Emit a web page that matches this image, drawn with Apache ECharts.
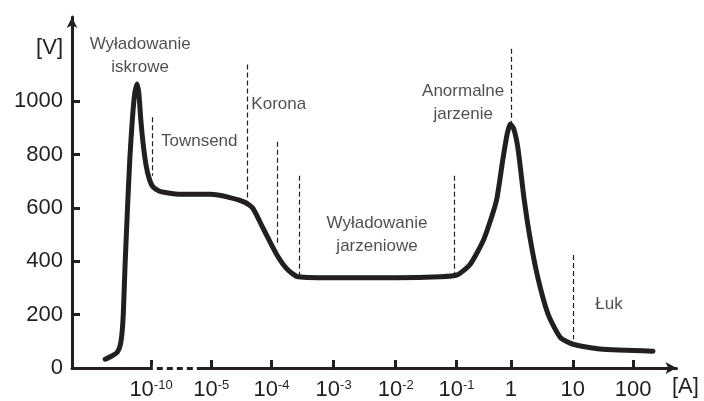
<!DOCTYPE html>
<html><head><meta charset="utf-8">
<script src="https://cdn.jsdelivr.net/npm/echarts@6/dist/echarts.min.js"></script>
<style>html,body{margin:0;padding:0;background:#fff}#c{width:704px;height:401px}</style>
</head><body><div id="c"></div>
<script>
// x axis: one unit per labelled tick (axis is broken / schematic)
const tickPos = [0, 1, 2, 3.03, 4.06, 5.07, 5.97, 7, 8];
const tickLabels = ['10^-10', '10^-5', '10^-4', '10^-3', '10^-2', '10^-1', '1', '10', '100'];
const yTicks = [0, 200, 400, 600, 800, 1000];
const yLabelVals = [0, 200, 400, 600, 800, 1000, 1200];
const yUnitAt = 1200;

const curveX = [-0.76,-0.65,-0.56,-0.51,-0.48,-0.46,-0.43,-0.39,-0.35,-0.31,-0.27,-0.23,-0.20,-0.17,-0.13,-0.08,-0.03,0.03,0.15,0.48,0.98,1.31,1.56,1.69,1.86,2.09,2.27,2.44,3.14,4.07,4.80,5.08,5.29,5.51,5.66,5.74,5.84,5.91,5.96,6.02,6.09,6.19,6.29,6.42,6.59,6.79,7.0,7.45,8.33];
const curveY = [33,45,59,86,134,201,387,600,790,930,1030,1065,1026,933,840,758,710,680,662,651,651,639,621,599,524,424,368,342,338,338,342,349,387,476,572,636,784,877,915,896,822,636,487,338,201,115,89,71,63];

const dividerX = [0.02, 1.59, 2.09, 2.46, 5.03, 5.98, 7.0];
const dividerTop = [940, 1138, 848, 721, 721, 1197, 424];
const dividerBottom = [721, 636, 461, 346, 346, 922, 108];

const noteText = ['Wyładowanie\niskrowe', 'Townsend', 'Korona', 'Wyładowanie\njarzeniowe', 'Anormalne\njarzenie', 'Łuk'];
const noteX = [-0.18, 0.80, 2.12, 3.75, 5.18, 7.60];
const noteY = [1171, 851, 989, 498, 996, 238];

const breakFrom = 0.03, breakTo = 0.76;

const INK = '#231f20';
const FONT = 'Liberation Sans, Arial, sans-serif';
const chart = echarts.init(document.getElementById('c'), null, {renderer: 'canvas'});

function xLabel(v) {
  let best = 0;
  for (let i = 0; i < tickPos.length; i++) if (Math.abs(tickPos[i] - v) < Math.abs(tickPos[best] - v)) best = i;
  const t = tickLabels[best];
  const p = t.split('^');
  return p.length > 1 ? '{b|' + p[0] + '}{s|' + p[1] + '}' : '{b|' + p[0] + '}';
}

const markData = dividerX.map((x, i) => [
  {coord: [x, dividerTop[i]], lineStyle: {color: INK, width: 1.2, type: [5, 3]}},
  {coord: [x, dividerBottom[i]]}
]);
markData.push([
  {coord: [breakFrom, 0], lineStyle: {color: '#ffffff', width: 6, type: [4, 6], cap: 'butt'}},
  {coord: [breakTo, 0]}
]);

chart.setOption({
  animation: false,
  backgroundColor: '#ffffff',
  grid: {left: 72, right: 27.5, top: 17, bottom: 30, containLabel: false},
  xAxis: {
    type: 'value', min: -1.311, max: 8.72,
    splitLine: {show: false},
    axisLine: {show: true, onZero: false, symbol: ['none', 'arrow'], symbolSize: [9, 11],
      lineStyle: {color: INK, width: 3}},
    axisTick: {show: true, inside: true, length: 8, customValues: tickPos, lineStyle: {color: INK, width: 3}},
    axisLabel: {show: true, customValues: tickPos, margin: 11, formatter: xLabel, color: INK,
      rich: {
        b: {fontFamily: FONT, fontSize: 22, color: INK, verticalAlign: 'top', lineHeight: 22},
        s: {fontFamily: FONT, fontSize: 13, color: INK, verticalAlign: 'top', lineHeight: 13}
      }},
    name: '[A]', nameLocation: 'end', nameGap: -4.5,
    nameTextStyle: {fontFamily: FONT, fontSize: 22, color: INK,
      align: 'left', verticalAlign: 'top', padding: [8, 0, 0, 0]}
  },
  yAxis: {
    type: 'value', min: 0, max: 1316,
    splitLine: {show: false},
    axisLine: {show: true, onZero: false, symbol: ['none', 'arrow'], symbolSize: [8, 11],
      lineStyle: {color: INK, width: 3}},
    axisTick: {show: true, inside: true, length: 8, customValues: yTicks, lineStyle: {color: INK, width: 3}},
    axisLabel: {show: true, customValues: yLabelVals, margin: 9, color: INK,
      fontFamily: FONT, fontSize: 22,
      formatter: v => (v === yUnitAt ? '[V]' : String(v))}
  },
  series: [
    {
      type: 'line', z: 3, clip: false,
      data: curveX.map((x, i) => [x, curveY[i]]),
      showSymbol: false, symbol: 'none', smooth: 0.2,
      lineStyle: {color: INK, width: 5, cap: 'round', join: 'round'}
    },
    {
      type: 'line', z: 4, clip: false, data: [], silent: true,
      markLine: {silent: true, symbol: 'none', label: {show: false}, animation: false, data: markData}
    },
    {
      type: 'scatter', z: 5, symbolSize: 0, silent: true,
      data: noteX.map((x, i) => [x, noteY[i], noteText[i]]),
      label: {show: true, position: 'inside', formatter: p => p.data[2],
        fontFamily: FONT, fontSize: 17, lineHeight: 23, color: INK, align: 'center'}
    }
  ]
});
</script></body></html>
